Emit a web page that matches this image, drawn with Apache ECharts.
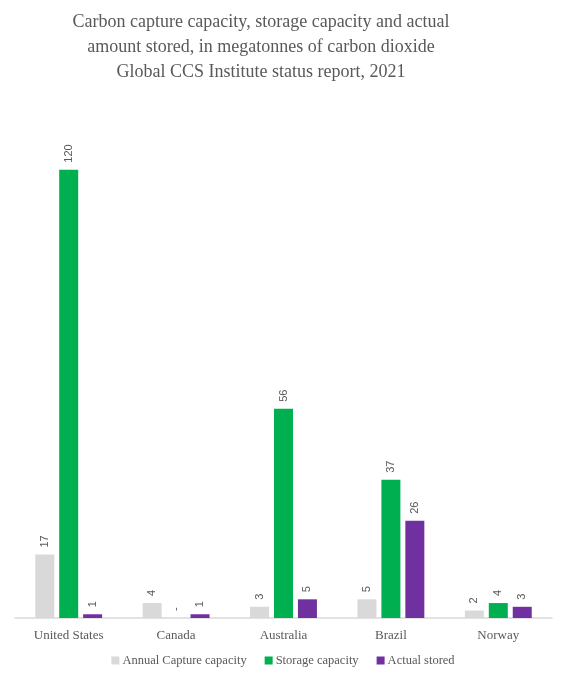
<!DOCTYPE html>
<html><head><meta charset="utf-8">
<script src="https://cdn.jsdelivr.net/npm/echarts@6/dist/echarts.min.js"></script>
<style>html,body{margin:0;padding:0;background:#fff}#c{width:566px;height:680px}</style>
</head><body><div id="c"></div>
<script>
const categories = ['United States', 'Canada', 'Australia', 'Brazil', 'Norway'];
const annualCapture = [17, 4, 3, 5, 2];
const storageCapacity = [120, 0, 56, 37, 4];
const actualStored = [1, 1, 5, 26, 3];
const seriesNames = ['Annual Capture capacity', 'Storage capacity', 'Actual stored'];
const colors = ['#d9d9d9', '#00b050', '#7030a0'];

const FONT = "'Liberation Serif', 'DejaVu Serif', serif";
const chart = echarts.init(document.getElementById('c'));
const lbl = {
  show: true, position: 'top', rotate: 90, align: 'left', verticalAlign: 'middle',
  distance: 7, color: '#595959', fontFamily: "'Liberation Sans', Arial, sans-serif", fontSize: 11,
  formatter: p => p.value === 0 ? '-' : String(p.value)
};
function mk(name, data, color) {
  return { name, type: 'bar', data, barWidth: 19, barGap: '26%', itemStyle: { color }, label: lbl };
}
chart.setOption({
  animation: false,
  title: {
    text: 'Carbon capture capacity, storage capacity and actual\namount stored, in megatonnes of carbon dioxide\nGlobal CCS Institute status report, 2021',
    left: 256, textAlign: 'center', top: 5,
    textStyle: { fontFamily: FONT, fontSize: 18, fontWeight: 'normal', color: '#595959', lineHeight: 25 }
  },
  legend: {
    bottom: 8, left: 'center', icon: 'rect', itemWidth: 8, itemHeight: 8, itemGap: 18,
    textStyle: { fontFamily: FONT, fontSize: 12.5, color: '#595959', padding: [0, 0, 0, -2] },
    data: seriesNames
  },
  grid: { left: 15, right: 14, top: 95, bottom: 62, containLabel: false },
  xAxis: {
    type: 'category', data: categories,
    axisLine: { lineStyle: { color: '#d9d9d9', width: 1.5 } },
    axisTick: { show: false },
    axisLabel: { fontFamily: FONT, fontSize: 13, color: '#595959', margin: 11 }
  },
  yAxis: { type: 'value', min: 0, max: 140, show: false, splitLine: { show: false } },
  series: [
    mk(seriesNames[0], annualCapture, colors[0]),
    mk(seriesNames[1], storageCapacity, colors[1]),
    mk(seriesNames[2], actualStored, colors[2])
  ]
});
</script></body></html>
